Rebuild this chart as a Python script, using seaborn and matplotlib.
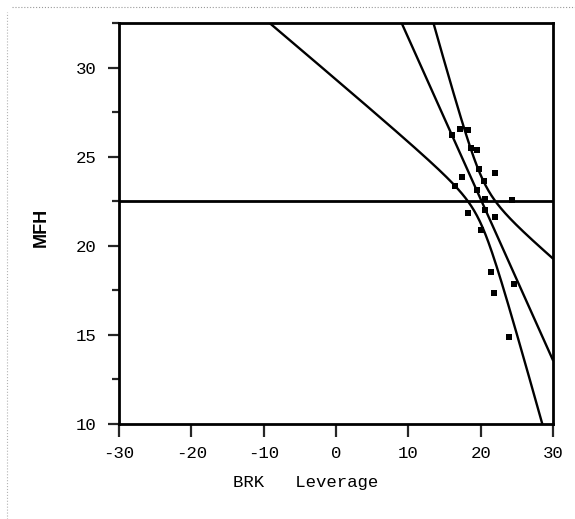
import numpy as np
import pandas as pd
import matplotlib
matplotlib.use("Agg")
import matplotlib.pyplot as plt
from matplotlib.lines import Line2D
from matplotlib.ticker import MultipleLocator
import seaborn as sns

# leverage points
brk_lev = [17.15, 18.29, 16.0, 18.67, 19.45, 19.77, 21.98, 17.38, 20.5, 16.45, 19.45,
           20.6, 24.3, 20.6, 18.2, 21.98, 20.05, 21.39, 24.61, 21.88, 23.88]
mfh = [26.57, 26.47, 26.23, 25.50, 25.39, 24.29, 24.08, 23.85, 23.63, 23.35, 23.15,
       22.64, 22.59, 21.99, 21.84, 21.61, 20.87, 18.53, 17.83, 17.36, 14.86]
rmse = 2.95     # full model root mean square error
t_crit = 2.093  # 95% t quantile

x_ticks = [-30, -20, -10, 0, 10, 20, 30]
y_ticks = [10, 15, 20, 25, 30]

df = pd.DataFrame({"BRK Leverage": brk_lev, "MFH": mfh})
x = df["BRK Leverage"]
y = df["MFH"]
n = len(df)

b1, b0 = np.polyfit(x, y, deg=1)  # y = b1*x + b0
xbar, ybar = x.mean(), y.mean()
sxx = ((x - xbar) ** 2).sum()

grid = np.linspace(-30, 30, 600)
fit = b0 + b1 * grid
half = t_crit * rmse * np.sqrt(1 / n + (grid - xbar) ** 2 / sxx)

sns.set_style("white")
plt.rcParams["axes.unicode_minus"] = False
mono = ["Liberation Mono", "DejaVu Sans Mono"]

fig = plt.figure(figsize=(5.75, 5.19), dpi=100)
ax = fig.add_axes([119 / 575, 1 - 424 / 519, 434 / 575, 401 / 519])

ax.axhline(ybar, color="black", lw=2.0, zorder=2)
sns.lineplot(x=grid, y=fit, color="black", lw=1.7, ax=ax)
sns.lineplot(x=grid, y=fit + half, color="black", lw=1.7, ax=ax)
sns.lineplot(x=grid, y=fit - half, color="black", lw=1.7, ax=ax)
sns.scatterplot(x="BRK Leverage", y="MFH", data=df, color="black", marker="s",
                s=14, linewidth=0, ax=ax, zorder=3)

ax.set_xlim(-30, 30)
ax.set_ylim(10, 32.5)
ax.set_xticks(x_ticks)
ax.set_yticks(y_ticks)
ax.yaxis.set_minor_locator(MultipleLocator(2.5))
for s in ax.spines.values():
    s.set_visible(True)
    s.set_color("black")
    s.set_linewidth(2)
ax.tick_params(axis="x", which="major", direction="out", length=9, width=1.6,
               pad=7, bottom=True)
ax.tick_params(axis="y", which="major", direction="out", length=8, width=1.6,
               pad=8, left=True)
ax.tick_params(axis="y", which="minor", direction="out", length=5, width=1.6,
               left=True)
for lab in ax.get_xticklabels() + ax.get_yticklabels():
    lab.set_family(mono)
    lab.set_fontsize(12.5)
    lab.set_color("black")

ax.set_xlabel("BRK   Leverage", family=mono, fontsize=12.5, color="black")
ax.xaxis.set_label_coords(0.43, -0.147)
ax.xaxis.label.set_va("center")
ax.set_ylabel("MFH", family=["Liberation Sans", "DejaVu Sans"], fontsize=13,
              fontweight="bold", color="black")
ax.yaxis.set_label_coords(-0.18, 0.49)
ax.yaxis.label.set_va("center")

# faint dotted scan edge
fig.add_artist(Line2D([12 / 575, 1], [1 - 7 / 519] * 2, color="0.6", lw=0.8,
                      ls=":", transform=fig.transFigure))
fig.add_artist(Line2D([7 / 575] * 2, [0, 1 - 12 / 519], color="0.7", lw=0.8,
                      ls=":", transform=fig.transFigure))

fig.savefig("out.png", dpi=100)
